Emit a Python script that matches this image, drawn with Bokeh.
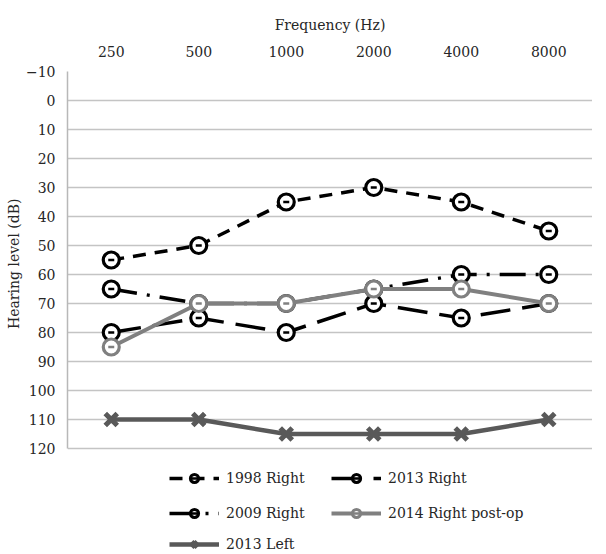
from bokeh.plotting import figure
from bokeh.models import Range1d, FixedTicker, Legend, LegendItem, ColumnDataSource, Title
from bokeh.embed import file_html
from bokeh.resources import INLINE

freqs = ["250", "500", "1000", "2000", "4000", "8000"]
y_ticks = [-10, 0, 10, 20, 30, 40, 50, 60, 70, 80, 90, 100, 110, 120]
r1998 = [55, 50, 35, 30, 35, 45]
r2009 = [65, 70, 70, 65, 60, 60]
r2013 = [80, 75, 80, 70, 75, 70]
r2014 = [85, 70, 70, 65, 65, 70]
l2013 = [110, 110, 115, 115, 115, 110]

FONT = "DejaVu Serif"
TXT = "#262626"
FS = "14px"

xs = list(range(len(freqs)))

# frame extends below the 120 dB line to leave room for the legend rows
p = figure(width=592, height=553, output_backend="svg", toolbar_location=None,
           x_range=Range1d(-0.5, len(freqs) - 0.5), y_range=Range1d(156.2, -10),
           x_axis_location="above",
           min_border_left=67, min_border_right=0, min_border_top=71, min_border_bottom=0)
p.outline_line_color = None
p.background_fill_color = "white"
p.border_fill_color = "white"

# x axis (top)
xa = p.xaxis[0]
xa.ticker = FixedTicker(ticks=xs)
xa.major_label_overrides = {i: f for i, f in zip(xs, freqs)}
xa.axis_line_color = None
xa.major_tick_line_color = None
xa.minor_tick_line_color = None
xa.major_tick_out = 0
xa.major_tick_in = 0
xa.major_label_standoff = 15
xa.axis_label = "Frequency (Hz)"
xa.axis_label_standoff = 10
xa.axis_label_text_font = FONT
xa.axis_label_text_font_style = "normal"
xa.axis_label_text_font_size = FS
xa.axis_label_text_color = TXT
xa.major_label_text_font = FONT
xa.major_label_text_font_size = FS
xa.major_label_text_color = TXT

ya = p.yaxis[0]
ya.ticker = FixedTicker(ticks=y_ticks)
ya.bounds = (y_ticks[0], y_ticks[-1])
ya.major_label_overrides = {-10: "\u221210"}
ya.axis_line_color = "#b8b8b8"
ya.axis_line_width = 1.5
ya.major_tick_line_color = None
ya.minor_tick_line_color = None
ya.major_tick_out = 0
ya.major_tick_in = 0
ya.major_label_standoff = 12
ya.major_label_text_font = FONT
ya.major_label_text_font_size = FS
ya.major_label_text_color = TXT

# y axis title, placed over the -10..120 span
p.add_layout(Title(text="Hearing level (dB)", align="right", offset=127, standoff=2,
                   text_font=FONT, text_font_style="normal", text_font_size=FS,
                   text_color=TXT), "left")

p.xgrid.visible = False
p.ygrid.ticker = FixedTicker(ticks=y_ticks)
p.ygrid.grid_line_color = "#c4c4c4"
p.ygrid.grid_line_width = 1.5


def circle_series(vals, color, dash, lw=3.5):
    src = ColumnDataSource(dict(x=xs, y=vals))
    ln = p.line("x", "y", source=src, line_color=color, line_width=lw, line_dash=dash)
    mk = p.scatter("x", "y", source=src, marker="circle", size=16, fill_color="white",
                   line_color=color, line_width=3.2)
    dk = p.scatter("x", "y", source=src, marker="dash", size=6, line_color=color, line_width=2.5)
    return [ln, mk, dk]


s1998 = circle_series(r1998, "black", "13 9")
s2009 = circle_series(r2009, "black", "26 10 3 10")
s2013 = circle_series(r2013, "black", "30 12")
s2014 = circle_series(r2014, "#808080", "solid", lw=4)

srcL = ColumnDataSource(dict(x=xs, y=l2013))
lnL = p.line("x", "y", source=srcL, line_color="#595959", line_width=4.5)
mkL = p.scatter("x", "y", source=srcL, marker="x", size=17, line_color="#595959", line_width=5)
sL = [lnL, mkL]


def make_legend(items, vy):
    lg = Legend(items=items, location=(102, vy), orientation="horizontal",
                padding=0, margin=0, spacing=0, border_line_color=None,
                background_fill_alpha=0,
                glyph_width=50, glyph_height=20, label_height=20, label_width=105,
                label_standoff=7, label_text_font=FONT, label_text_font_size=FS,
                label_text_color=TXT)
    p.add_layout(lg, "center")


make_legend([LegendItem(label="1998 Right", renderers=s1998),
             LegendItem(label="2013 Right", renderers=s2013)], 65)
make_legend([LegendItem(label="2009 Right", renderers=s2009),
             LegendItem(label="2014 Right post-op", renderers=s2014)], 30)
make_legend([LegendItem(label="2013 Left", renderers=sL)], -1)

open("out.html", "w").write(file_html(p, INLINE))
